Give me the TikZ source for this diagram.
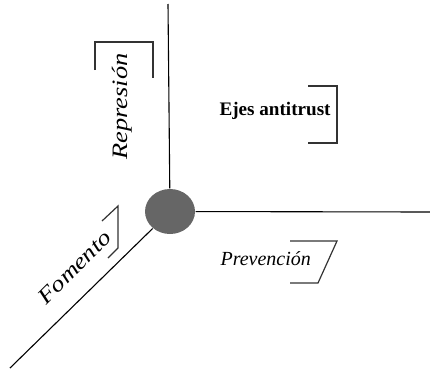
\documentclass[tikz,border=0pt]{standalone}
\usepackage{graphicx}
\usepackage{fontspec}
\setmainfont{Liberation Serif}
\usepackage{tikz}
\usetikzlibrary{shapes.geometric}

\begin{document}
\begin{tikzpicture}[x=1pt,y=-1pt,line width=1.1pt]
\tikzstyle{eje}=[draw=black,line width=1.1pt]
\tikzstyle{corchete}=[draw=black!80,line width=1.2pt]
\tikzstyle{etiqueta}=[inner sep=0pt,font=\fontsize{22}{24}\selectfont\itshape]
\useasboundingbox (0,0) rectangle (430,370);
\node[ellipse,fill=black!60,minimum width=50pt,minimum height=45pt,inner sep=0pt] (origen) at (170,211.5) {};
\coordinate (arriba) at (168,4);
\coordinate (derecha) at (430,212);
\coordinate (abajo) at (10,368);
\draw[eje] (origen) -- (arriba);
\draw[eje] (origen) -- (derecha);
\draw[eje] (origen) -- (abajo);
% etiquetas de los ejes
\node[etiqueta,rotate=90,anchor=base west] (represion) at (127,160) {\scalebox{1.2}[1]{Represión}};
\node[etiqueta,rotate=45,anchor=base west] (fomento) at (46,306) {\scalebox{1.2}[1]{Fomento}};
\node[etiqueta,font=\fontsize{20}{22}\selectfont\itshape,anchor=base west] (prevencion) at (220,265) {Prevención};
\node[inner sep=0pt,font=\bfseries,anchor=base west] (titulo) at (219,115) {\resizebox{111pt}{!}{Ejes antitrust}};
% corchetes
\draw[corchete] (95,70) -- (95,42) -- (153,42) -- (153,78);
\draw[corchete] (308,86) -- (337,86) -- (337,143) -- (308,143);
\draw[corchete] (290,241) -- (337,241) -- (318,283) -- (290,283);
\draw[corchete] (102,221) -- (118,206) -- (118,248) -- (108,258);
\end{tikzpicture}
\end{document}
